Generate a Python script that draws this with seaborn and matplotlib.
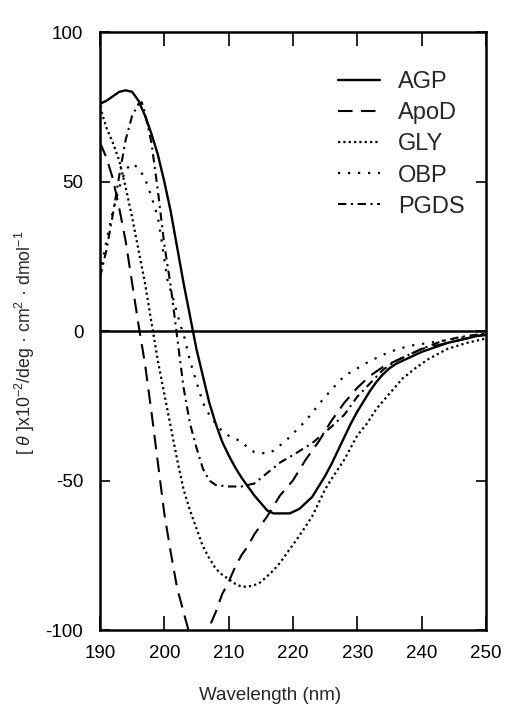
import matplotlib
matplotlib.use("Agg")
import matplotlib.pyplot as plt
import seaborn as sns

# ---- data ----
agp_x = [190, 191, 192, 193, 194, 195, 196, 197, 198, 199, 200, 201, 202, 203, 204, 205, 206, 207,
         208, 209, 210, 211, 212, 213, 214, 215, 216, 217, 218, 219.5, 221, 222, 223, 224, 225, 226,
         227, 228, 229, 230, 231, 232, 233, 234, 235, 236, 238, 240, 242, 244, 246, 249, 251]
agp_y = [76, 77, 78.5, 80, 80.5, 80, 77, 72, 66, 59, 50, 40, 28, 16, 5, -6, -15, -24,
         -31, -37, -41.5, -45.5, -49, -52, -55, -57.5, -60, -61, -61, -61, -59.5, -57.5, -55.5, -52, -48.5, -44.5,
         -40, -35.5, -31, -27, -23.5, -20, -17, -14.5, -12.5, -11, -9, -7, -5.5, -4, -3, -1.5, -1]

apod_x = [190, 191, 192, 193, 194, 195, 196, 197, 198, 199, 200, 201, 202, 203, 204, 205, 206, 207,
          208, 209, 210, 211, 212, 213, 214, 215, 216, 218, 220, 222, 224, 226, 228, 230, 232, 234,
          236, 238, 240, 244, 248, 251]
apod_y = [63, 58, 51, 41, 30, 16, 2, -11, -27, -44, -61, -74, -86, -94, -102, -107, -104, -99,
          -94, -88, -84, -79, -75, -72, -68, -65, -62, -55, -50, -43, -37, -30, -24, -19, -15, -12,
          -10, -8, -6, -4, -2, -1]

gly_x = [190, 191, 192, 193, 194, 195, 196, 197, 198, 199, 200, 201, 202, 203, 204, 205, 206, 207,
         208, 209, 210, 211, 212, 213, 214, 215, 216, 217, 218, 219.5, 221, 223, 225, 226, 228, 230,
         231.5, 233, 235, 237, 239, 241, 244, 247, 251]
gly_y = [75, 68, 63, 57, 48, 38, 27, 16, 3, -10, -21, -32, -43, -53, -60, -66, -72, -76,
         -79.5, -81.5, -83, -84.5, -85.5, -85.5, -85, -84, -82, -80, -77.5, -73, -68.5, -62, -53, -49.5, -43, -35,
         -31, -26, -21, -16, -12.5, -9.5, -6, -4, -2]

obp_x = [190, 191, 192, 193, 194, 195, 196, 197, 198, 199, 199.5, 200, 200.5, 201.5, 202.5, 203, 204,
         205, 206, 207, 208, 209, 210, 211, 212, 213, 214, 216, 217, 219, 222, 225, 228, 232, 235,
         238, 244, 251]
obp_y = [19, 30, 40, 48, 54, 56, 54.5, 51, 45, 38, 31.5, 24, 17, 10, 2, -1, -10,
         -17, -24, -28, -31, -33.5, -35, -36, -37, -39, -40.5, -41, -40, -36.5, -30, -22, -15, -10, -7,
         -5, -3, -0.5]

pgds_x = [190, 191, 192, 193, 194, 195, 196, 196.5, 197, 198, 199, 200, 201, 202, 203, 204, 205, 206,
          207, 208, 210, 212, 214, 216, 218, 220, 223, 226, 228, 230, 232, 234, 236, 238, 240, 243,
          246, 251]
pgds_y = [18, 27, 39, 52, 64, 72, 76, 76.5, 73, 63, 47, 29, 15, -2, -19, -31, -39, -46,
          -50, -51.5, -52, -52, -51, -47.5, -44, -41.5, -37.5, -32, -28, -22, -17.5, -13, -10, -8, -6, -3.5,
          -2, -0.5]

series_names = ["AGP", "ApoD", "GLY", "OBP", "PGDS"]
x_ticks = [190, 200, 210, 220, 230, 240, 250]
y_ticks = [-100, -50, 0, 50, 100]

# ---- style ----
sns.set_style("white")
plt.rcParams["font.family"] = ["Liberation Sans", "DejaVu Sans"]
plt.rcParams["mathtext.fontset"] = "custom"
plt.rcParams["mathtext.rm"] = "Liberation Sans"
plt.rcParams["mathtext.it"] = "Liberation Sans:italic"
plt.rcParams["mathtext.default"] = "regular"
plt.rcParams["axes.unicode_minus"] = False

fig = plt.figure(figsize=(5.07, 7.07), dpi=100)
ax = fig.add_axes([0.1972, 0.1089, 0.761, 0.8458])

styles = {
    "AGP": dict(linestyle="-", lw=1.7),
    "ApoD": dict(linestyle=(0, (7, 4)), lw=1.5),
    "GLY": dict(linestyle=(0, (1, 1.4)), lw=1.6),
    "OBP": dict(linestyle=(0, (1, 3.5)), lw=1.6),
    "PGDS": dict(linestyle=(0, (4, 2.2, 1, 2.2)), lw=1.5),
}
data = {
    "AGP": (agp_x, agp_y),
    "ApoD": (apod_x, apod_y),
    "GLY": (gly_x, gly_y),
    "OBP": (obp_x, obp_y),
    "PGDS": (pgds_x, pgds_y),
}
for name in series_names:
    xs, ys = data[name]
    sns.lineplot(x=xs, y=ys, ax=ax, color="black", label=name, sort=False,
                 **styles[name])

ax.axhline(0, color="black", lw=1.8, zorder=1)

ax.set_xlim(190, 250)
ax.set_ylim(-100, 100)
ax.set_xticks(x_ticks)
ax.set_yticks(y_ticks)
ax.tick_params(axis="x", direction="in", length=10, width=1.2, top=True, bottom=True,
               labelsize=13.5, pad=11, colors="black")
ax.tick_params(axis="y", direction="in", length=7, width=1.2, left=True, right=True,
               labelsize=13.5, pad=12, colors="black")
for sp in ax.spines.values():
    sp.set_linewidth(1.8)
    sp.set_color("black")

ax.set_xlabel("Wavelength (nm)", fontsize=13.5)
ax.xaxis.set_label_coords(0.44, -0.095)
ax.set_ylabel(r"[ $\mathit{\theta}$ ]x10$^{-2}$/deg · cm$^{2}$ · dmol$^{-1}$", fontsize=12.8)
ax.yaxis.set_label_coords(-0.163, 0.48)

leg = ax.legend(loc="upper left", bbox_to_anchor=(0.617, 0.935), frameon=False,
                fontsize=17, handlelength=1.78, handletextpad=0.76, labelspacing=0.39,
                borderpad=0, borderaxespad=0)
for h in leg.get_lines():
    h.set_color("black")

fig.savefig("out.png", dpi=100)
